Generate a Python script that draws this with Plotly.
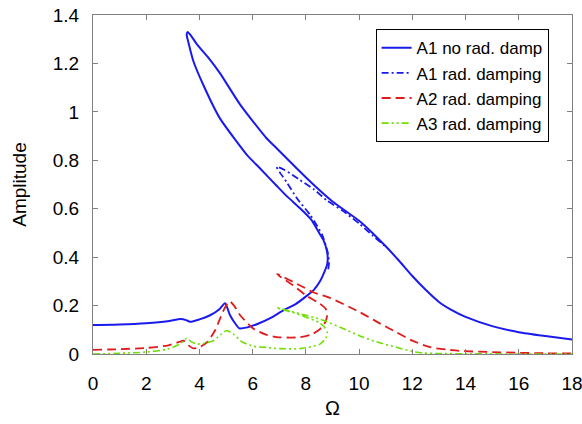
import plotly.graph_objects as go

# A1 no radiation damping (solid blue)
a1_x = [0, 1, 2, 2.8, 3.3, 3.5, 3.65, 4.0, 4.4, 4.75, 4.96, 5.15, 5.35, 5.5, 5.8, 6.2, 6.7, 7.15, 7.6, 8.03,
        8.3, 8.53, 8.7, 8.8, 8.82, 8.78, 8.66, 8.5, 8.2, 7.8, 7.3, 6.9, 6.28, 5.8, 5.4, 4.77, 4.15, 3.77,
        3.6, 3.52, 3.56, 3.68, 3.9, 4.4, 4.77, 5.53, 6.53, 6.9, 7.66, 8.28, 9.0, 10.0, 10.5, 11.0, 11.5,
        12.0, 12.5, 13.0, 13.5, 14.0, 15.0, 16.0, 17.0, 18.0]
a1_y = [0.12, 0.122, 0.127, 0.135, 0.145, 0.14, 0.133, 0.143, 0.16, 0.185, 0.21, 0.16, 0.125, 0.106, 0.11,
        0.125, 0.15, 0.18, 0.205, 0.24, 0.265, 0.3, 0.34, 0.37, 0.40, 0.43, 0.47, 0.50, 0.555, 0.60, 0.65,
        0.695, 0.766, 0.82, 0.877, 0.973, 1.11, 1.21, 1.28, 1.32, 1.33, 1.315, 1.28, 1.215, 1.16, 1.03,
        0.89, 0.85, 0.766, 0.70, 0.63, 0.55, 0.50, 0.445, 0.385, 0.322, 0.265, 0.215, 0.18, 0.153, 0.115,
        0.09, 0.074, 0.06]

# A1 with radiation damping (blue dash-dot)
a1r_x = [8.84, 8.87, 8.82, 8.62, 8.17, 7.67, 7.27, 7.02, 6.9, 7.2, 7.78, 8.3, 8.78, 9.4, 10.04, 10.5, 11.04]
a1r_y = [0.35, 0.38, 0.42, 0.49, 0.573, 0.642, 0.711, 0.75, 0.773, 0.76, 0.718, 0.68, 0.635, 0.59,
         0.535, 0.49, 0.44]

# A2 with radiation damping (red dashed)
a2_x = [0, 1, 2, 2.8, 3.27, 3.4, 3.6, 3.77, 4.02, 4.3, 4.6, 4.77, 4.95, 5.13, 5.3, 5.53, 6.03, 6.5, 6.9,
        7.4, 7.78, 8.2, 8.5, 8.72, 8.8, 8.75, 8.5, 8.03, 7.5, 7.03, 6.92, 7.3, 7.78, 8.28, 8.9, 10.04,
        10.8, 11.4, 12.0, 12.67, 13.3, 13.92, 15, 16, 17, 18]
a2_y = [0.017, 0.02, 0.025, 0.035, 0.051, 0.055, 0.035, 0.023, 0.029, 0.05, 0.1, 0.145, 0.19, 0.218, 0.2,
        0.16, 0.104, 0.08, 0.07, 0.068, 0.069, 0.08, 0.1, 0.13, 0.16, 0.186, 0.21, 0.24, 0.285, 0.32, 0.33,
        0.31, 0.283, 0.255, 0.232, 0.172, 0.125, 0.09, 0.055, 0.028, 0.018, 0.012, 0.008, 0.005, 0.003,
        0.002]

# A3 with radiation damping (green dash-dot-dot)
a3_x = [0, 1, 2, 2.8, 3.27, 3.52, 3.7, 3.9, 4.2, 4.52, 4.8, 5.02, 5.3, 5.6, 6.03, 6.53, 7.03, 7.78, 8.2,
        8.53, 8.75, 8.8, 8.7, 8.5, 8.0, 7.5, 7.03, 6.9, 7.3, 8.0, 8.5, 8.91, 9.5, 10.16, 10.8, 11.4, 12.0,
        12.4, 13, 14, 16, 18]
a3_y = [0.0, 0.003, 0.008, 0.02, 0.041, 0.065, 0.05, 0.041, 0.045, 0.055, 0.08, 0.097, 0.08, 0.05, 0.032,
        0.027, 0.022, 0.022, 0.03, 0.041, 0.065, 0.09, 0.11, 0.13, 0.152, 0.172, 0.186, 0.193, 0.18, 0.16,
        0.145, 0.128, 0.1, 0.069, 0.045, 0.028, 0.01, 0.004, 0.002, 0.001, 0.0, 0.0]

x_ticks = [0, 2, 4, 6, 8, 10, 12, 14, 16, 18]
y_ticks = [0, 0.2, 0.4, 0.6, 0.8, 1, 1.2, 1.4]
y_tick_text = ["0", "0.2", "0.4", "0.6", "0.8", "1", "1.2", "1.4"]

BLUE = "#1a1aee"
RED = "#e01b1b"
GREEN = "#6ee000"

fig = go.Figure()
fig.add_trace(go.Scatter(x=a1_x, y=a1_y, mode="lines", name="A1 no rad. damp",
                         line=dict(color=BLUE, width=2, shape="spline", smoothing=0.6)))
fig.add_trace(go.Scatter(x=a1r_x, y=a1r_y, mode="lines", name="A1 rad. damping",
                         line=dict(color=BLUE, width=1.8, dash="7px,3px,2px,3px", shape="spline", smoothing=0.6)))
fig.add_trace(go.Scatter(x=a2_x, y=a2_y, mode="lines", name="A2 rad. damping",
                         line=dict(color=RED, width=1.8, dash="9px,5px", shape="spline", smoothing=0.6)))
fig.add_trace(go.Scatter(x=a3_x, y=a3_y, mode="lines", name="A3 rad. damping",
                         line=dict(color=GREEN, width=1.6, dash="7px,3px,2px,3px,2px,3px", shape="spline", smoothing=0.6)))

axis_common = dict(showline=True, linecolor="#808080", linewidth=1, mirror="ticks", ticks="inside",
                   ticklen=5, tickcolor="#808080", showgrid=False, zeroline=False, automargin=False,
                   ticklabeloverflow="allow",
                   tickfont=dict(family="Liberation Sans, Arial", size=19, color="black"))

fig.update_layout(
    width=582, height=424,
    margin=dict(l=93, r=10, t=15, b=70),
    paper_bgcolor="white", plot_bgcolor="white",
    font=dict(family="Liberation Sans, Arial", size=17, color="black"),
    xaxis=dict(range=[0, 18], tickvals=x_ticks, ticklabelstandoff=12,
               title=dict(text="Ω", font=dict(size=20), standoff=8), **axis_common),
    yaxis=dict(range=[0, 1.4], tickvals=y_ticks, ticktext=y_tick_text, ticklabelstandoff=9,
               title=dict(text="Amplitude", font=dict(size=19), standoff=21), **axis_common),
    legend=dict(x=0.59, y=0.958, xanchor="left", yanchor="top", bgcolor="white",
                bordercolor="black", borderwidth=1, font=dict(size=17)),
    showlegend=True,
)

fig.write_html("out.html")
